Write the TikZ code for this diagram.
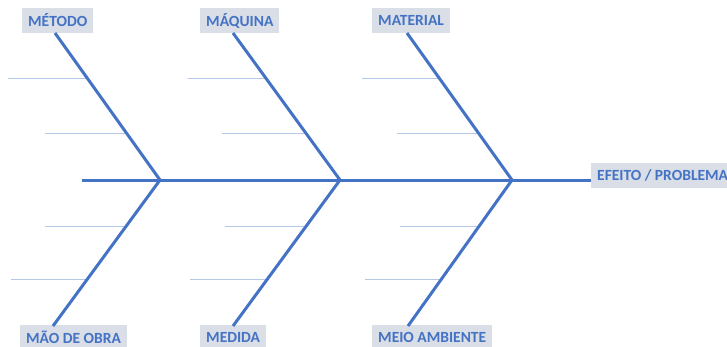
\documentclass[tikz,border=0pt]{standalone}
\usepackage{fontspec}
\setmainfont{Carlito}
\definecolor{bone}{HTML}{4472C4}
\definecolor{rib}{HTML}{B4C7E7}
\definecolor{lblfill}{HTML}{D9DEE7}
\definecolor{lbltext}{HTML}{4472C4}
\tikzset{
  lbl/.style={fill=lblfill, text=lbltext, font=\fontsize{15.5}{18}\selectfont\bfseries,
    minimum height=25pt, inner xsep=6pt, inner ysep=0pt, anchor=west},
  lblb/.style={lbl, minimum height=21pt, text depth=0pt},
  bonel/.style={draw=bone, line width=3pt},
  ribl/.style={draw=rib, line width=1pt}
}
\begin{document}
\begin{tikzpicture}[x=1pt,y=-1pt]
\useasboundingbox (0,0) rectangle (727,346);
% labels
\node[lbl] (metodo) at (22,20.5) {MÉTODO};
\node[lbl] (maquina) at (200,20.5) {MÁQUINA};
\node[lbl] (material) at (372,20.5) {MATERIAL};
\node[lbl] (maodeobra) at (20,337) {MÃO DE OBRA};
\node[lbl] (medida) at (200,337) {MEDIDA};
\node[lbl] (meio) at (372,337) {MEIO AMBIENTE};
\node[lbl] (efeito) at (591,175) {EFEITO / PROBLEMA};
% joints
\coordinate (tail) at (82,180);
\coordinate (j1) at (160,180);
\coordinate (j2) at (340,180);
\coordinate (j3) at (512,180);
\coordinate (t1) at (55,33);
\coordinate (t2) at (233,33);
\coordinate (t3) at (407,33);
\coordinate (b1) at (53,326);
\coordinate (b2) at (233,326);
\coordinate (b3) at (408,326);
% ribs
\draw[ribl] (8,78) -- (87.1,78);
\draw[ribl] (45,133) -- (126.4,133);
\draw[ribl] (188,78) -- (265.8,78);
\draw[ribl] (222,133) -- (305.8,133);
\draw[ribl] (362,78) -- (439.1,78);
\draw[ribl] (397,133) -- (478.4,133);
\draw[ribl] (45,226) -- (126.3,226);
\draw[ribl] (11,279) -- (87.4,279);
\draw[ribl] (225,226) -- (306.3,226);
\draw[ribl] (190,279) -- (267.4,279);
\draw[ribl] (400,226) -- (479.2,226);
\draw[ribl] (365,279) -- (441.5,279);
% bones
\draw[bonel] (tail) -- (j1) -- (j2) -- (j3) -- (efeito.west |- j3);
\draw[bonel] (j1) -- (t1);
\draw[bonel] (j2) -- (t2);
\draw[bonel] (j3) -- (t3);
\draw[bonel] (j1) -- (b1);
\draw[bonel] (j2) -- (b2);
\draw[bonel] (j3) -- (b3);
\end{tikzpicture}
\end{document}
